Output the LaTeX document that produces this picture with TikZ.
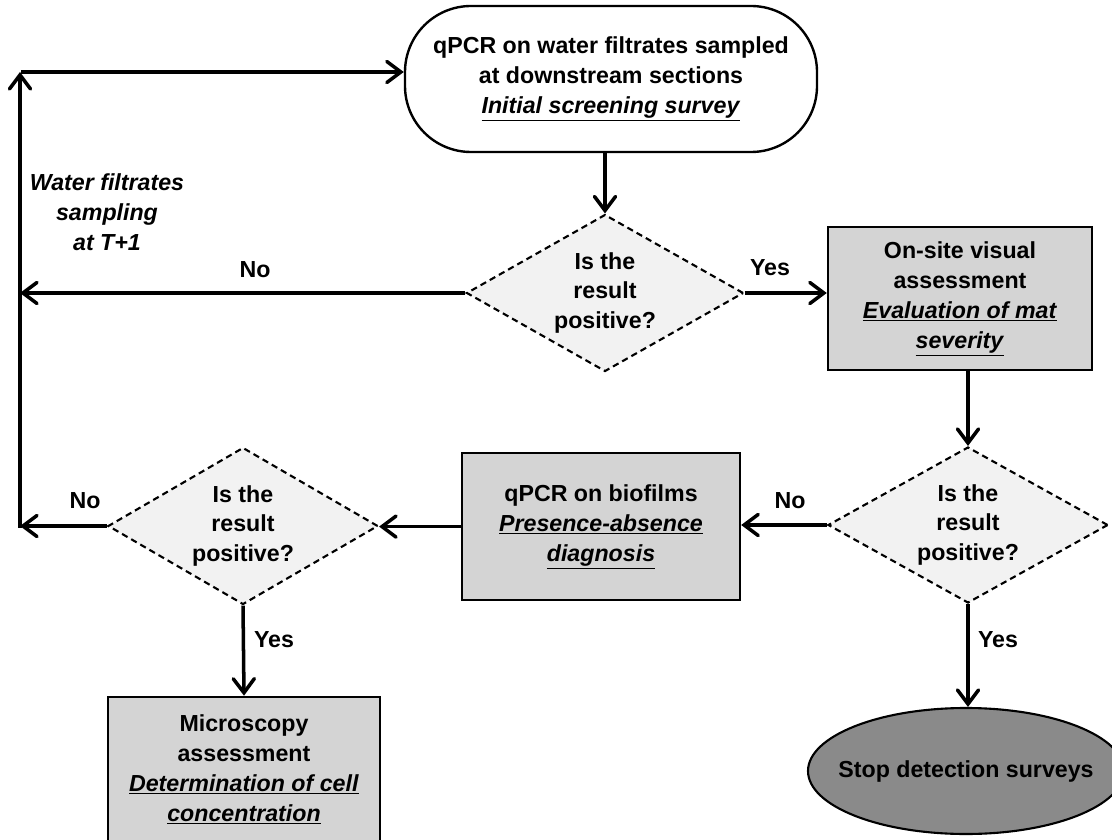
\documentclass[tikz,border=0pt]{standalone}
\usepackage{fontspec}
\setmainfont{Liberation Sans}
\usepackage{xcolor}
\definecolor{grisclair}{RGB}{242,242,242}
\definecolor{gris}{RGB}{212,212,212}
\definecolor{grisfonce}{RGB}{138,138,138}
\usetikzlibrary{shapes.geometric,arrows.meta,calc,positioning}

\begin{document}
\begin{tikzpicture}[every node/.style={font=\bfseries\fontsize{16.5}{21.3}\selectfont,align=center},
   boite/.style={draw,line width=1.7pt,fill=gris,inner sep=0pt},
   losange/.style={draw,diamond,dash pattern=on 4.5pt off 3pt,line width=1.5pt,fill=grisclair,inner sep=0pt},
   fleche/.style={line width=2.5pt,-{Straight Barb[length=10pt,width=15pt,line cap=round]}}]
   \useasboundingbox (0,0) rectangle (27.8,20.975);
   % boites
   \node[boite,fill=white,rounded corners=1.65cm,minimum width=10.3cm,minimum height=3.65cm] (eau) at (15.275,19.0) {qPCR on water filtrates sampled\\at downstream sections\\\underline{\textit{Initial screening survey}}};
   \node[boite,minimum width=6.6cm,minimum height=3.575cm] (visuel) at (24.0,13.51) {On-site visual\\assessment\\\underline{\textit{Evaluation of mat}}\\\underline{\textit{severity}}};
   \node[boite,minimum width=6.95cm,minimum height=3.675cm] (biofilm) at (15.025,7.81) {qPCR on biofilms\\\underline{\textit{Presence-absence}}\\\underline{\textit{diagnosis}}};
   \node[boite,minimum width=6.8cm,minimum height=3.625cm] (microscopie) at (6.1,1.74) {Microscopy\\assessment\\\underline{\textit{Determination of cell}}\\\underline{\textit{concentration}}};
   \node[draw,ellipse,line width=1.5pt,fill=grisfonce,inner sep=0pt,minimum width=7.9cm,minimum height=3.15cm] (stop) at (24.15,1.7) {};
   \node (arret) at (stop) {Stop detection surveys};
   % losanges
   \node[losange,minimum width=6.925cm,minimum height=3.925cm] (test1) at (15.125,13.65) {};
   \node (q1) at (test1) {Is the\\result\\positive?};
   \node[losange,minimum width=7.0cm,minimum height=3.9cm] (test2) at (24.2,7.85) {};
   \node (q2) at (test2) {Is the\\result\\positive?};
   \node[losange,minimum width=6.75cm,minimum height=3.925cm] (test3) at (6.075,7.825) {};
   \node (q3) at (test3) {Is the\\result\\positive?};
   % textes
   \node[font=\bfseries\itshape\fontsize{16.5}{21.3}\selectfont] (prelev) at (2.675,15.675) {Water filtrates\\sampling\\at T+1};
   \node (non1) at (6.375,14.225) {No};
   \node (oui1) at (19.25,14.275) {Yes};
   \node (non2) at (19.75,8.45) {No};
   \node (non3) at (2.125,8.45) {No};
   \node (oui3) at (6.85,4.975) {Yes};
   \node (oui2) at (24.95,4.975) {Yes};
   % fleches
   \coordinate (haut) at (0.5,19.175);
   \coordinate (bas) at (0.5,7.78);
   \draw[fleche] (bas) -- (haut);
   \draw[fleche] ([xshift=1pt]haut) -- (haut -| eau.west);
   \draw[fleche] (eau.south -| test1.north) -- (test1.north);
   \draw[fleche] (test1.east) -- (test1.east -| visuel.west);
   \draw[fleche] (test1.west) -- (test1.west -| haut);
   \draw[fleche] (visuel.south -| test2.north) -- (test2.north);
   \draw[fleche] (test2.west) -- (test2.west -| biofilm.east);
   \draw[fleche] (biofilm.west) -- (biofilm.west -| test3.east);
   \draw[fleche] (test3.west) -- (test3.west -| haut);
   \draw[fleche] (test3.south) -- (microscopie.north);
   \draw[fleche] (test2.south) -- (test2.south |- stop.north);
\end{tikzpicture}
\end{document}
